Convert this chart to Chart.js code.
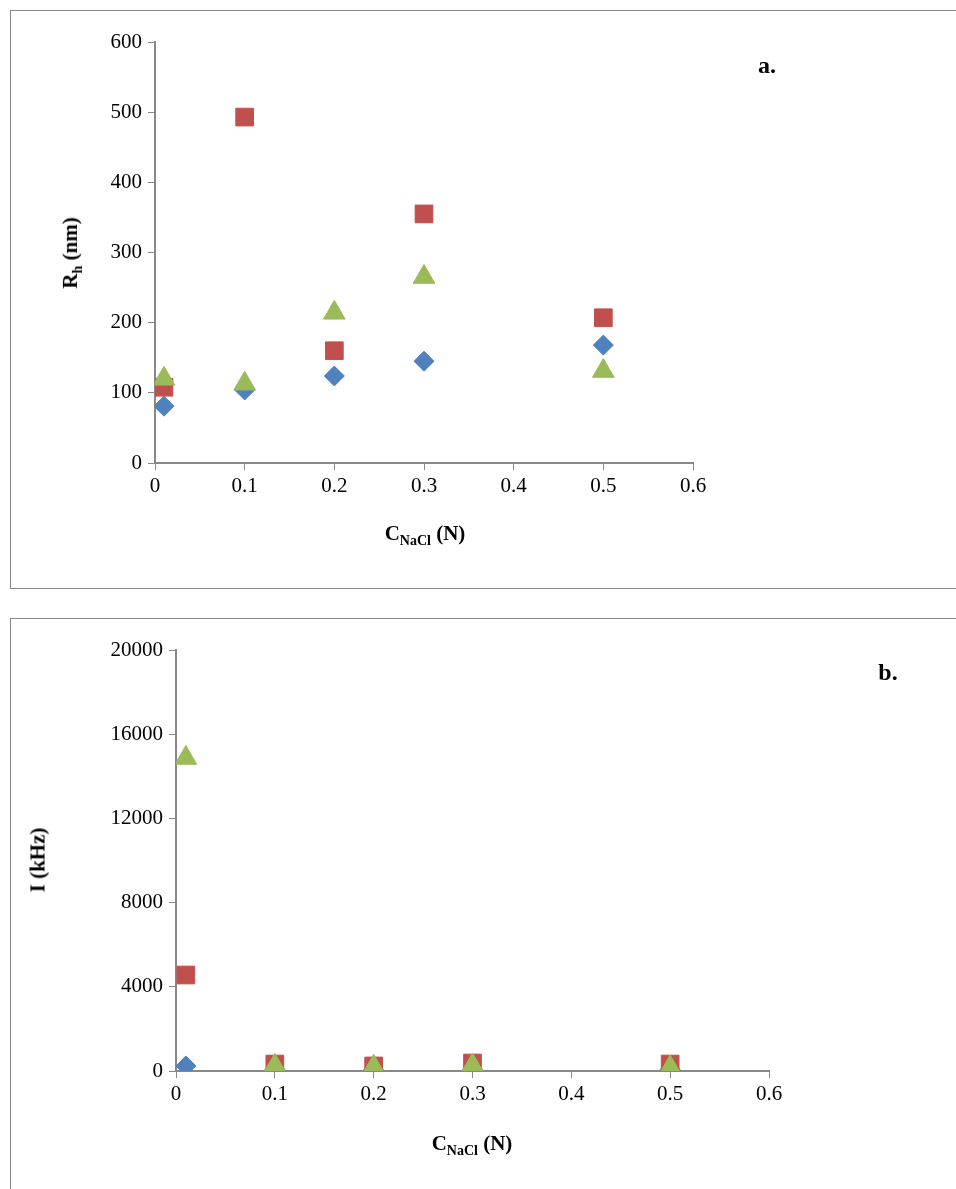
<!DOCTYPE html>
<html><head><meta charset="utf-8">
<script src="https://cdn.jsdelivr.net/npm/chart.js@4"></script>
<style>
body{margin:0;background:#fff;font-family:"Liberation Serif","Times New Roman",serif;}
.box{position:absolute;left:10px;width:960px;border:1px solid #888;box-sizing:border-box;}
.c{position:absolute;}
.t{position:absolute;font-weight:bold;font-size:21px;white-space:nowrap;color:#000;}
.t sub{font-size:14px;}
.rot{transform:translate(-50%,-50%) rotate(-90deg);}
.ctr{transform:translate(-50%,-50%);}
</style></head><body>
<div class="box" style="top:10px;height:579px"></div>
<div class="box" style="top:618px;height:580px"></div>
<div class="c" style="left:11px;top:11px;width:945px;height:576px"><canvas id="ca"></canvas></div>
<div class="c" style="left:11px;top:619px;width:945px;height:570px"><canvas id="cb"></canvas></div>
<div class="t rot" style="left:72px;top:253px">R<sub>h</sub> (nm)</div>
<div class="t ctr" style="left:425px;top:535px">C<sub>NaCl</sub> (N)</div>
<div class="t ctr" style="left:767px;top:65px;font-size:24px">a.</div>
<div class="t rot" style="left:38px;top:860px">I (kHz)</div>
<div class="t ctr" style="left:472px;top:1145px">C<sub>NaCl</sub> (N)</div>
<div class="t ctr" style="left:888px;top:672px;font-size:24px">b.</div>
<script>
const conc = [0.01, 0.1, 0.2, 0.3, 0.5];
const rhBlue = [81, 104, 124, 145, 168];
const rhRed = [108, 493, 160, 355, 207];
const rhGreen = [120, 113, 214, 265, 131];
const iBlue = [240, 80, 60, 80, 70];
const iRed = [4560, 330, 240, 380, 330];
const iGreen = [14870, 250, 200, 260, 170];
const xTicks = [0, 0.1, 0.2, 0.3, 0.4, 0.5, 0.6];

const pts = v => conc.map((x, i) => ({x, y: v[i]}));
function ds(b, r, g) {
  return [
    {data: pts(b), order: 3, pointStyle: 'rectRot', pointRadius: 10, backgroundColor: '#4F81BD', borderColor: '#4F81BD'},
    {data: pts(r), order: 2, pointStyle: 'rect', pointRadius: 12.5, backgroundColor: '#C0504D', borderColor: '#C0504D'},
    {data: pts(g), order: 1, pointStyle: 'triangle', pointRadius: 12.5, backgroundColor: '#9BBB59', borderColor: '#9BBB59'}
  ];
}
function make(id, data, ymax, step, yw, rightPad, xh) {
  const tickFont = {family: '"Liberation Serif","Times New Roman",serif', size: 21};
  new Chart(document.getElementById(id), {
    type: 'scatter',
    data: {datasets: data},
    options: {
      responsive: true, maintainAspectRatio: false, animation: false,
      layout: {padding: {top: 31, right: rightPad, left: 0, bottom: 0}},
      plugins: {legend: {display: false}, tooltip: {enabled: false}},
      scales: {
        x: {type: 'linear', min: 0, max: 0.6,
            afterBuildTicks: a => { a.ticks = xTicks.map(v => ({value: v})); },
            afterFit: a => { a.height = xh; },
            ticks: {color: '#000', font: tickFont, padding: 4, callback: v => String(+v.toFixed(1))},
            grid: {drawOnChartArea: false, color: '#888', tickLength: 7},
            border: {color: '#888', width: 2}},
        y: {min: 0, max: ymax,
            afterFit: a => { a.width = yw; },
            ticks: {stepSize: step, color: '#000', font: tickFont, padding: 6, callback: v => String(v)},
            grid: {drawOnChartArea: false, color: '#888', tickLength: 7},
            border: {color: '#888', width: 2}}
      }
    }
  });
}
make('ca', ds(rhBlue, rhRed, rhGreen), 600, 100, 144, 263, 124);
make('cb', ds(iBlue, iRed, iGreen), 20000, 4000, 165, 187, 118);
</script>
</body></html>
